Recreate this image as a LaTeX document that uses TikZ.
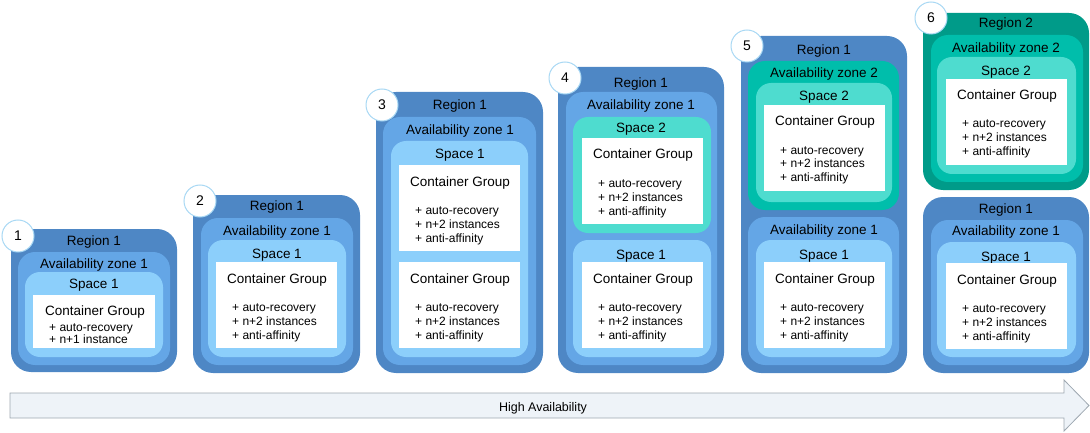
\documentclass[tikz,border=0pt]{standalone}
\usepackage{fontspec}
\setmainfont{Liberation Sans}
\definecolor{regblue}{HTML}{4E87C5}
\definecolor{azblue}{HTML}{64A6E6}
\definecolor{spblue}{HTML}{8CCFFB}
\definecolor{regteal}{HTML}{009B89}
\definecolor{azteal}{HTML}{00BEAB}
\definecolor{spteal}{HTML}{4EDCCF}
\definecolor{ringblue}{HTML}{A8D8F4}
\definecolor{arrfill}{HTML}{EEF3F8}
\definecolor{arrline}{HTML}{9EA8B1}
\tikzset{
  regionbox/.style={fill=regblue, rounded corners=20pt},
  azbox/.style={fill=azblue, rounded corners=17pt},
  spacebox/.style={fill=spblue, rounded corners=15pt},
  regionteal/.style={fill=regteal, rounded corners=20pt},
  azteal/.style={fill=azteal, rounded corners=17pt},
  spaceteal/.style={fill=spteal, rounded corners=15pt},
}
\begin{document}
\begin{tikzpicture}[x=1pt, y=-1pt,
  lbl/.style={anchor=base, yshift=-5pt, inner sep=0pt, font=\fontsize{13.5}{16}\selectfont},
  items/.style={anchor=base west, align=left, inner sep=0pt, font=\fontsize{12}{14}\selectfont},
  num/.style={circle, draw=ringblue, fill=white, line width=1pt, minimum size=32pt, inner sep=0pt, font=\fontsize{14}{16}\selectfont}]
\useasboundingbox (0,0) rectangle (1090,433);

% step 1
\fill[regionbox](11,229) rectangle (177,372);
\fill[azbox](18,252) rectangle (170,365);
\fill[spacebox](25,272) rectangle (163,357);
\fill[white](33,295) rectangle (155,348);
\node[lbl] (r1a) at (94,240) {Region 1};
\node[lbl] (z1a) at (94,263) {Availability zone 1};
\node[lbl] (s1a) at (94,283) {Space 1};
\node[lbl] (g1a) at (95,310) {Container Group};
\node[items, font=\fontsize{12}{12}\selectfont] (i1a) at (49,343) {+ auto-recovery\\+ n+1 instance};

% step 2
\fill[regionbox](193,195) rectangle (360,373);
\fill[azbox](201,218) rectangle (353,365);
\fill[spacebox](208,240) rectangle (346,357);
\node[lbl] (r2a) at (277,206) {Region 1};
\node[lbl] (z2a) at (277,230) {Availability zone 1};
\node[lbl] (s2a) at (277,253) {Space 1};

% step 3
\fill[regionbox](376,92) rectangle (543,373);
\fill[azbox](383,117) rectangle (536,365);
\fill[spacebox](391,141) rectangle (528,357);
\node[lbl] (r3a) at (460,105) {Region 1};
\node[lbl] (z3a) at (460,130) {Availability zone 1};
\node[lbl] (s3a) at (460,154) {Space 1};

% step 4
\fill[regionbox](558,67) rectangle (724,373);
\fill[azbox](566,92) rectangle (717,365);
\fill[spaceteal](573,117) rectangle (711,233);
\fill[spacebox](573,240) rectangle (711,357);
\node[lbl] (r4a) at (641,83) {Region 1};
\node[lbl] (z4a) at (641,105) {Availability zone 1};
\node[lbl] (s4b) at (641,128) {Space 2};
\node[lbl] (s4a) at (641,254) {Space 1};

% step 5
\fill[regionbox](741,36) rectangle (907,373);
\fill[azteal](748,61) rectangle (899,210);
\fill[spaceteal](756,83) rectangle (892,202);
\fill[azbox](748,217) rectangle (899,365);
\fill[spacebox](756,240) rectangle (892,357);
\node[lbl] (r5a) at (824,50) {Region 1};
\node[lbl] (z5b) at (824,73) {Availability zone 2};
\node[lbl] (s5b) at (824,96) {Space 2};
\node[lbl] (z5a) at (824,229) {Availability zone 1};
\node[lbl] (s5a) at (824,254) {Space 1};

% step 6
\fill[regionteal](923,13) rectangle (1089,190);
\fill[azteal](931,35) rectangle (1083,182);
\fill[spaceteal](937,57) rectangle (1076,174);
\fill[regionbox](923,197) rectangle (1089,373);
\fill[azbox](931,220) rectangle (1083,365);
\fill[spacebox](937,242) rectangle (1076,357);
\node[lbl] (r6b) at (1006,23) {Region 2};
\node[lbl] (z6b) at (1006,48) {Availability zone 2};
\node[lbl] (s6b) at (1006,71) {Space 2};
\node[lbl] (r6a) at (1006,208) {Region 1};
\node[lbl] (z6a) at (1006,230) {Availability zone 1};
\node[lbl] (s6a) at (1006,256) {Space 1};

% container groups
\foreach \n/\x/\y in {g2a/216/262, g3b/399/165, g3a/399/262, g4b/582/138, g4a/582/262,
                      g5b/764/105, g5a/764/262, g6b/946/79, g6a/946/263}
{
    \fill[white](\x,\y) rectangle ++(121,86);
    \node[lbl] (\n) at (\x+61,\y+16) {Container Group};
    \node[items] (\n i) at (\x+16,\y+77) {+ auto-recovery\\+ n+2 instances\\+ anti-affinity};
}

% step numbers
\foreach \k/\x/\y in {1/18/236, 2/200/201, 3/382/105, 4/565/78, 5/747/46, 6/931/18}
{
    \node[num] (c\k) at (\x,\y) {\k};
}

% high availability arrow
\draw[fill=arrfill, draw=arrline, line width=.8pt](10,393) -- (1064,393) -- (1064,380) -- (1089,405.5)
    -- (1064,431) -- (1064,418) -- (10,418) -- cycle;
\node[lbl, font=\fontsize{12.5}{14}\selectfont] (ha) at (543,406) {High Availability};

\end{tikzpicture}
\end{document}
